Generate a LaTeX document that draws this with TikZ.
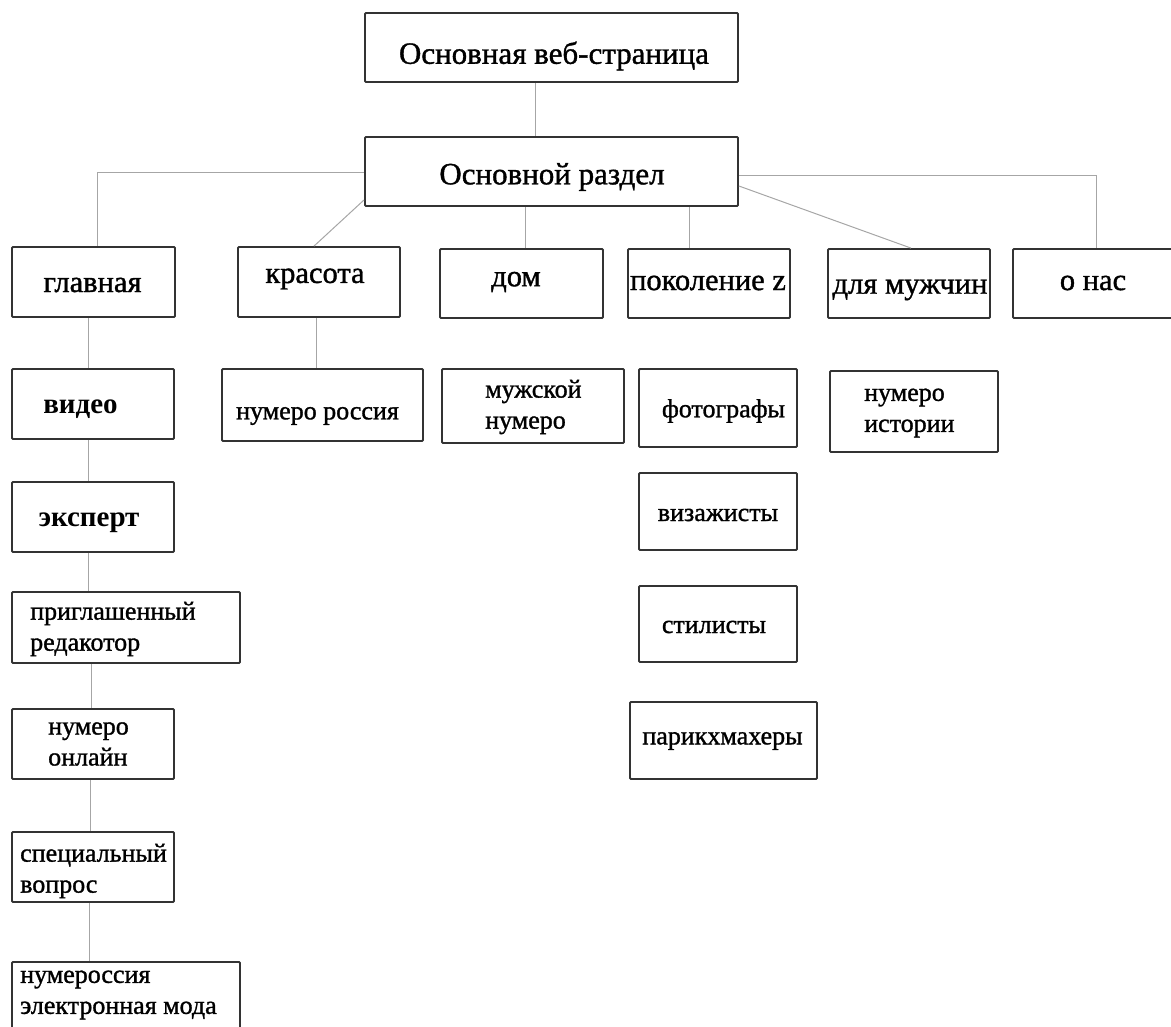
\documentclass[tikz,border=0pt]{standalone}
\usepackage{fontspec}
\setmainfont{Liberation Serif}
\newfontfamily\heavyserif[FakeBold=1.2]{Liberation Serif}
\begin{document}
\begin{tikzpicture}[x=1pt,y=-1pt,
  box/.style={draw=black!80, line width=1.8pt, rectangle, inner sep=0pt, rounded corners=1pt},
  conn/.style={draw=black!35, line width=1pt},
  lbl/.style={inner sep=0pt, font=\heavyserif\fontsize{26}{31}\selectfont},
  bld/.style={inner sep=0pt, font=\fontsize{29}{34}\selectfont\bfseries},
  cat/.style={inner sep=0pt, font=\heavyserif\fontsize{30.5}{36}\selectfont},
  big/.style={inner sep=0pt, font=\heavyserif\fontsize{31}{36}\selectfont},
  ml/.style={lbl, align=left, anchor=west}]
\useasboundingbox (0,0) rectangle (1171,1027);
\clip (0,0) rectangle (1171,1027);
% boxes
\node[box, minimum width=373pt, minimum height=69pt] (top) at (551.5,47.5) {};
\node[box, minimum width=373pt, minimum height=69pt] (main) at (551.5,171.5) {};
\node[box, minimum width=163pt, minimum height=70pt] (glav) at (93.5,282) {};
\node[box, minimum width=162pt, minimum height=70pt] (kras) at (319,282) {};
\node[box, minimum width=163pt, minimum height=69pt] (dom) at (521.5,283.5) {};
\node[box, minimum width=162pt, minimum height=69pt] (pok) at (709,283.5) {};
\node[box, minimum width=162pt, minimum height=69pt] (muzh) at (909,283.5) {};
\node[box, minimum width=163pt, minimum height=69pt] (onas) at (1094.5,283.5) {};
\node[box, minimum width=162pt, minimum height=70pt] (video) at (93,404) {};
\node[box, minimum width=162pt, minimum height=70pt] (eksp) at (93,517) {};
\node[box, minimum width=228pt, minimum height=71pt] (prigl) at (126,627.5) {};
\node[box, minimum width=162pt, minimum height=70pt] (numonl) at (93,744) {};
\node[box, minimum width=162pt, minimum height=70pt] (spec) at (93,867) {};
\node[box, minimum width=228pt, minimum height=73pt] (numel) at (126,998.5) {};
\node[box, minimum width=201pt, minimum height=72pt] (numros) at (322.5,405) {};
\node[box, minimum width=182pt, minimum height=74pt] (mnum) at (533,406) {};
\node[box, minimum width=158pt, minimum height=78pt] (foto) at (718,408) {};
\node[box, minimum width=168pt, minimum height=81pt] (numist) at (914,411.5) {};
\node[box, minimum width=158pt, minimum height=77pt] (viz) at (718,511.5) {};
\node[box, minimum width=158pt, minimum height=76pt] (stil) at (718,624) {};
\node[box, minimum width=187pt, minimum height=77pt] (parik) at (723.5,740.5) {};
% connectors
\draw[conn] ([xshift=-16.5pt]top.south) -- ([xshift=-16.5pt]top.south |- main.north);
\draw[conn] ([yshift=-1.5pt]main.west) -| ([xshift=3.5pt]glav.north);
\draw[conn] ([yshift=7pt]main.south west) -- ([xshift=-5pt]kras.north);
\draw[conn] ([xshift=3.5pt]dom.north) -- ([xshift=3.5pt]dom.north |- main.south);
\draw[conn] ([xshift=-20pt]pok.north) -- ([xshift=-20pt]pok.north |- main.south);
\draw[conn] ([yshift=-14.5pt]main.east) -- ([xshift=2pt]muzh.north);
\draw[conn] ([yshift=-4.5pt]main.east) -| ([xshift=1.5pt]onas.north);
\draw[conn] ([xshift=-5.5pt]glav.south) -- ([xshift=-5.5pt]glav.south |- video.north);
\draw[conn] ([xshift=-5pt]video.south) -- ([xshift=-5pt]eksp.north);
\draw[conn] ([xshift=-5pt]eksp.south) -- ([xshift=-5pt]eksp.south |- prigl.north);
\draw[conn] ([xshift=-35pt]prigl.south) -- ([xshift=-35pt]prigl.south |- numonl.north);
\draw[conn] ([xshift=-3pt]numonl.south) -- ([xshift=-3pt]spec.north);
\draw[conn] ([xshift=-4pt]spec.south) -- ([xshift=-4pt]spec.south |- numel.north);
\draw[conn] ([xshift=-3pt]kras.south) -- ([xshift=-3pt]kras.south |- numros.north);
% labels
\node[big] (t-top) at (554,56) {Основная веб-страница};
\node[big] (t-main) at (552,177) {Основной раздел};
\node[cat] (t-glav) at (92.5,285) {главная};
\node[cat] (t-kras) at (315,279) {красота};
\node[cat] (t-dom) at (516,282) {дом};
\node[cat] (t-pok) at (708,283) {поколение z};
\node[cat] (t-muzh) at (910,290) {для мужчин};
\node[cat] (t-onas) at (1093,283) {о нас};
\node[bld] (t-video) at (80.5,409) {видео};
\node[bld] (t-eksp) at (89,523) {эксперт};
\node[ml] (t-prigl) at (30,629) {приглашенный\\редакотор};
\node[ml] (t-numonl) at (48,744) {нумеро\\онлайн};
\node[ml] (t-spec) at (20,871) {специальный\\вопрос};
\node[ml] (t-numel) at (20,995) {нумероссия\\электронная мода};
\node[lbl] (t-numros) at (317.5,416) {нумеро россия};
\node[ml] (t-mnum) at (485,407) {мужской\\нумеро};
\node[lbl] (t-foto) at (723.5,411) {фотографы};
\node[ml] (t-numist) at (864,413) {нумеро\\истории};
\node[lbl] (t-viz) at (718,515) {визажисты};
\node[lbl] (t-stil) at (714,627) {стилисты};
\node[lbl] (t-parik) at (722.5,741) {парикхмахеры};
\end{tikzpicture}
\end{document}
